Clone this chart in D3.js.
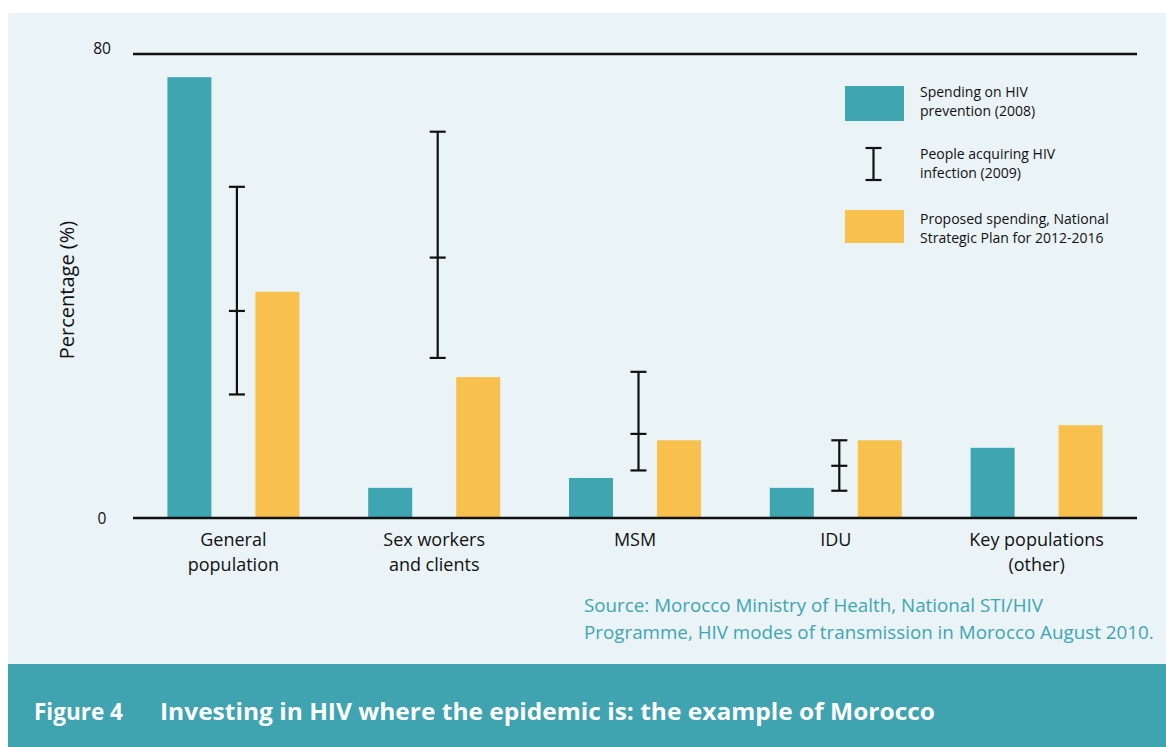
<!DOCTYPE html>
<html>
<head>
<meta charset="utf-8">
<script src="https://cdn.jsdelivr.net/npm/d3@7"></script>
<style>
  html, body { margin: 0; padding: 0; background: #ffffff; }
  svg { display: block; }
  text { font-family: "Open Sans", "Noto Sans", sans-serif; }
</style>
</head>
<body>
<svg id="chart" width="1166" height="747"></svg>
<script>
// ---- data ----
const categories = [["General", "population"], ["Sex workers", "and clients"], ["MSM"], ["IDU"], ["Key populations", "(other)"]];
const spending2008 = [76, 5.2, 6.9, 5.2, 12.1];
const proposedSpending = [39, 24.3, 13.4, 13.4, 16.0];
const infectionsLow = [21.3, 27.6, 8.2, 4.7, null];
const infectionsMid = [35.7, 44.9, 14.5, 9.0, null];
const infectionsHigh = [57.1, 66.6, 25.2, 13.4, null];
const yTicks = [0, 80];
const legendLabels = [["Spending on HIV", "prevention (2008)"], ["People acquiring HIV", "infection (2009)"], ["Proposed spending, National", "Strategic Plan for 2012-2016"]];
const sourceLines = ["Source: Morocco Ministry of Health, National STI/HIV", "Programme, HIV modes of transmission in Morocco August 2010."];
const figureLabel = "Figure 4";
const figureTitle = "Investing in HIV where the epidemic is: the example of Morocco";

const TEAL = "#3fa5b1", YELLOW = "#f8c14e", PANEL = "#eaf3f6";

const svg = d3.select("#chart");
svg.append("rect").attr("x", 8).attr("y", 13).attr("width", 1158).attr("height", 651).attr("fill", PANEL);
svg.append("rect").attr("x", 8).attr("y", 664).attr("width", 1158).attr("height", 83).attr("fill", "#3fa3b0");

const x0 = 133, x1 = 1137;
const x = d3.scaleBand().domain(d3.range(categories.length)).range([x0, x1]);
const y = d3.scaleLinear().domain([0, 80]).range([518, 54]);

const g = svg.append("g");

// bars
const barW = 44;
g.selectAll("rect.t").data(spending2008).join("rect")
  .attr("x", (d, i) => x(i) + x.bandwidth() / 2 - 66)
  .attr("y", d => y(d)).attr("width", barW).attr("height", d => y(0) - y(d)).attr("fill", TEAL);
g.selectAll("rect.y").data(proposedSpending).join("rect")
  .attr("x", (d, i) => x(i) + x.bandwidth() / 2 + 22)
  .attr("y", d => y(d)).attr("width", barW).attr("height", d => y(0) - y(d)).attr("fill", YELLOW);

// error bars
const eb = d3.range(categories.length).filter(i => infectionsMid[i] != null);
const ebG = g.selectAll("g.eb").data(eb).join("g")
  .attr("transform", i => `translate(${x(i) + x.bandwidth() / 2 + 3.5},0)`);
ebG.append("line").attr("x1", 0).attr("x2", 0).attr("y1", i => y(infectionsHigh[i])).attr("y2", i => y(infectionsLow[i]))
  .attr("stroke", "#111").attr("stroke-width", 2.2);
[infectionsHigh, infectionsMid, infectionsLow].forEach(arr => {
  ebG.append("line").attr("x1", -8).attr("x2", 8).attr("y1", i => y(arr[i])).attr("y2", i => y(arr[i]))
    .attr("stroke", "#111").attr("stroke-width", 2.2);
});

// axis lines
yTicks.forEach(t => {
  g.append("line").attr("x1", x0).attr("x2", x1).attr("y1", y(t)).attr("y2", y(t))
    .attr("stroke", "#111").attr("stroke-width", 2.4);
  g.append("text").attr("x", 102).attr("y", y(t) - (t === 0 ? 0 : 6)).attr("text-anchor", "middle")
    .attr("dominant-baseline", "central").attr("font-size", 15.5).attr("fill", "#111").text(t);
});

// category labels
categories.forEach((lines, i) => {
  const t = g.append("text").attr("text-anchor", "middle").attr("font-size", 18).attr("fill", "#111");
  lines.forEach((l, k) => t.append("tspan").attr("x", x(i) + x.bandwidth() / 2).attr("y", 546 + k * 25).text(l));
});

// y title
g.append("text").attr("transform", "translate(74,290) rotate(-90)").attr("text-anchor", "middle")
  .attr("font-size", 20).attr("fill", "#111").text("Percentage (%)");

// legend
g.append("rect").attr("x", 845).attr("y", 86).attr("width", 59).attr("height", 35).attr("fill", TEAL);
g.append("rect").attr("x", 845).attr("y", 210).attr("width", 59).attr("height", 33).attr("fill", YELLOW);
const lg = g.append("g").attr("transform", "translate(873.5,0)");
lg.append("line").attr("x1", 0).attr("x2", 0).attr("y1", 148).attr("y2", 180).attr("stroke", "#111").attr("stroke-width", 2.2);
[148, 180].forEach(v => lg.append("line").attr("x1", -8).attr("x2", 8).attr("y1", v).attr("y2", v).attr("stroke", "#111").attr("stroke-width", 2.2));
const legendY = [97, 159, 224];
legendLabels.forEach((lines, i) => {
  const t = g.append("text").attr("font-size", 14).attr("fill", "#111");
  lines.forEach((l, k) => t.append("tspan").attr("x", 920).attr("y", legendY[i] + k * 19).text(l));
});

// source
const st = g.append("text").attr("font-size", 18.8).attr("fill", "#3fa5b1");
sourceLines.forEach((l, k) => st.append("tspan").attr("x", 584).attr("y", 612 + k * 27).text(l));

// figure title
svg.append("text").attr("x", 34).attr("y", 720).attr("font-size", 22.5).attr("font-weight", "bold").attr("fill", "#fff").text(figureLabel);
svg.append("text").attr("x", 160).attr("y", 720).attr("font-size", 23.5).attr("font-weight", "bold").attr("fill", "#fff")
  .attr("textLength", 775).attr("lengthAdjust", "spacingAndGlyphs").text(figureTitle);
</script>
</body>
</html>
